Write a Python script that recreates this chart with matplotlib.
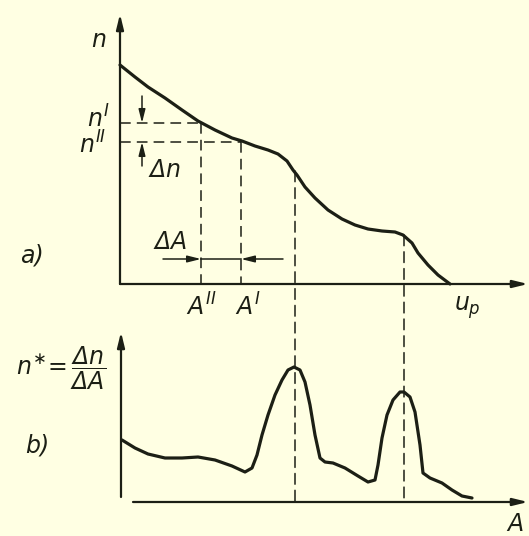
import matplotlib
matplotlib.use("Agg")
import matplotlib.pyplot as plt
from matplotlib.patches import ConnectionPatch

# --- data -----------------------------------------------------------------
# a) cumulative curve n(A)
top_A = [0, 15, 28, 45, 62, 78, 95, 112, 122, 135, 148, 158, 167, 173, 177,
         185, 195, 208, 222, 235, 248, 262, 275, 283, 292, 298, 308, 318, 330]
top_n = [219, 207, 197, 186, 174, 163, 154, 146, 143, 138, 134, 130, 123,
         114, 109, 97, 86, 74, 65, 59, 55, 53, 52, 49, 41, 31, 19, 9, 0]

# b) derivative curve n* = dn/dA
bot_A = [2, 15, 28, 45, 62, 78, 95, 112, 125, 132, 137, 142, 148, 155, 162,
         168, 174, 180, 185, 190, 195, 200, 205, 213, 225, 238, 248, 255,
         258, 262, 267, 273, 280, 284, 290, 295, 300, 303, 310, 322, 332,
         342, 352]
bot_n = [62, 54, 48, 44, 44, 45, 42, 36, 30, 34, 47, 67, 87, 107, 122,
         132, 135, 132, 120, 97, 67, 44, 40, 39, 34, 26, 20, 22,
         37, 64, 87, 102, 110, 110, 105, 90, 57, 29, 24, 19, 12,
         6, 4]

# construction points
A_second, n_second = 81, 161      # A'', n''
A_first, n_first = 121, 142       # A',  n'
peak_A = [175, 284]               # peaks of n*
peak_top_n = [113, 49]            # corresponding points on n(A)

# --- style ----------------------------------------------------------------
BG = "#FFFFE3"
INK = "#1C1F15"
plt.rcParams["mathtext.fontset"] = "custom"
plt.rcParams["mathtext.it"] = "DejaVu Sans:italic"
plt.rcParams["mathtext.rm"] = "DejaVu Sans:italic"
plt.rcParams["mathtext.sf"] = "DejaVu Sans:italic"
FS = 17
txt = dict(color=INK, fontstyle="italic", family="DejaVu Sans",
           ha="center", va="center", fontsize=FS)

W, H = 529, 536
fig = plt.figure(figsize=(W / 100, H / 100), dpi=100, facecolor=BG)

# top panel spans pixel rows 0..290, bottom panel rows 290..536
split = 290
ax_a = fig.add_axes([0, 1 - split / H, 1, split / H])
ax_b = fig.add_axes([0, 0, 1, 1 - split / H])
for ax in (ax_a, ax_b):
    ax.set_axis_off()
    ax.patch.set_alpha(0)
    ax.set_xlim(-120, W - 120)
ax_a.set_ylim(-6, 284)
ax_b.set_ylim(-34, 212)

axis_arrow = dict(arrowstyle="-|>,head_length=0.9,head_width=0.22",
                  color=INK, lw=1.6, shrinkA=0, shrinkB=0)
thin_arrow = dict(arrowstyle="-|>,head_length=0.8,head_width=0.2",
                  color=INK, lw=1.1, shrinkA=0, shrinkB=0)
dash = (0, (7, 4))
curve = dict(color=INK, lw=2.3, solid_joinstyle="round",
             solid_capstyle="round")

# --- a) ---------------------------------------------------------------------
ax_a.annotate("", xy=(0, 270), xytext=(0, 0), arrowprops=axis_arrow)
ax_a.annotate("", xy=(408, 0), xytext=(0, 0), arrowprops=axis_arrow)
ax_a.plot(top_A, top_n, **curve)

# construction lines
ax_a.plot([0, A_second], [n_second, n_second], color=INK, lw=1.1, ls=dash)
ax_a.plot([0, A_first], [n_first, n_first], color=INK, lw=1.1, ls=dash)
ax_a.plot([A_second, A_second], [n_second, 0], color=INK, lw=1.1, ls=dash)
ax_a.plot([A_first, A_first], [n_first, 0], color=INK, lw=1.1, ls=dash)

# delta n arrows
ax_a.annotate("", xy=(22, n_second), xytext=(22, 188), arrowprops=thin_arrow)
ax_a.annotate("", xy=(22, n_first), xytext=(22, 118), arrowprops=thin_arrow)
# delta A arrows
ax_a.annotate("", xy=(A_second, 25), xytext=(43, 25), arrowprops=thin_arrow)
ax_a.annotate("", xy=(A_first, 25), xytext=(163, 25), arrowprops=thin_arrow)
ax_a.plot([A_second, A_first], [25, 25], color=INK, lw=1.1)

ax_a.text(-21, 244, "n", **txt)
ax_a.text(-22, 165, r"$n^{I}$", **txt)
ax_a.text(-27, 139, r"$n^{II}$", **txt)
ax_a.text(45, 114, r"$\Delta n$", **txt)
ax_a.text(50, 42, r"$\Delta A$", **txt)
ax_a.text(-88, 29, "a)", **txt)
ax_a.text(A_second, -23, r"$A^{II}$", **txt)
ax_a.text(A_first + 7, -23, r"$A^{I}$", **txt)
ax_a.text(347, -24, r"$u_p$", **txt)

# --- b) ---------------------------------------------------------------------
ax_b.annotate("", xy=(1, 170), xytext=(1, 5), arrowprops=axis_arrow)
ax_b.annotate("", xy=(408, 0), xytext=(13, 0), arrowprops=axis_arrow)
ax_b.plot(bot_A, bot_n, **curve)

# n* = dn/dA label
ax_b.text(-59, 134, r"$n^{\ast}\!=\dfrac{\Delta n}{\Delta A}$", **txt)
ax_b.text(-83, 56, "b)", **txt)
ax_b.text(395, -22, "A", **txt)

# dashed verticals linking the steps of n(A) to the peaks of n*
for a, n in zip(peak_A, peak_top_n):
    con = ConnectionPatch(xyA=(a, n), coordsA=ax_a.transData,
                          xyB=(a, 0), coordsB=ax_b.transData,
                          color=INK, lw=1.1, ls=dash)
    fig.add_artist(con)

fig.savefig("out.png", dpi=100, facecolor=BG)
